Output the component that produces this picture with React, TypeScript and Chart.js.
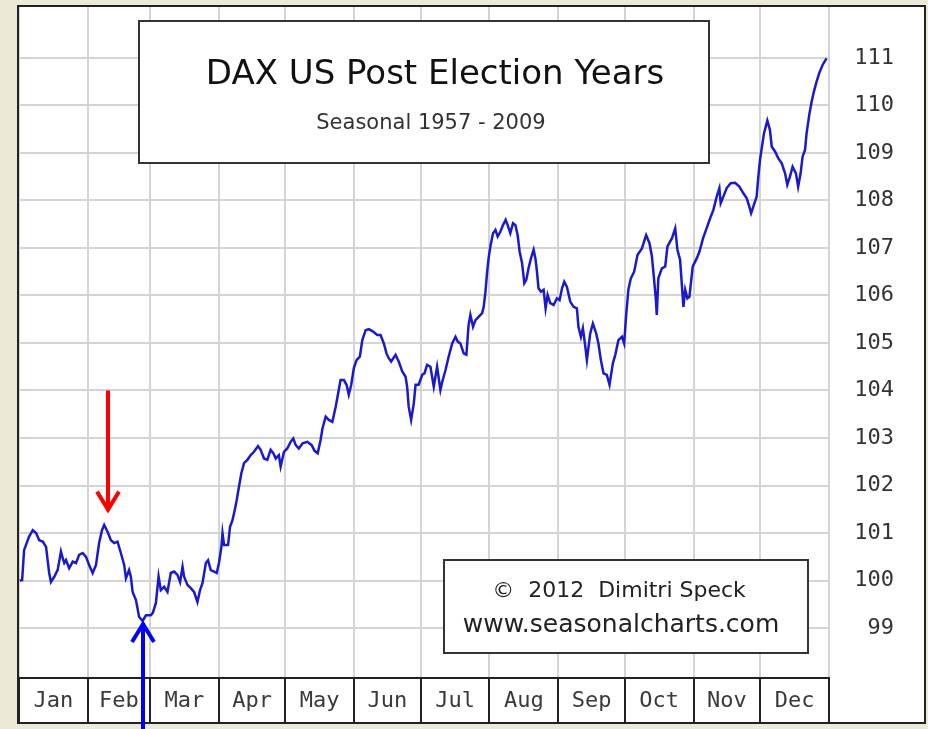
import React, { useEffect, useRef } from 'react';
import { Chart, registerables } from 'chart.js';

Chart.register(...registerables);

// ---- data ----
const monthNames = ['Jan', 'Feb', 'Mar', 'Apr', 'May', 'Jun', 'Jul', 'Aug', 'Sep', 'Oct', 'Nov', 'Dec'];
const monthStarts = [0, 31, 59, 90, 120, 151, 181, 212, 243, 273, 304, 334, 365];
const yTicks = [99, 100, 101, 102, 103, 104, 105, 106, 107, 108, 109, 110, 111];

// day of year for each reading
const days = [
  0.3, 1.4, 2.3, 4.5, 6.2, 7.7, 9.1, 10.7, 12.2, 12.9,
  13.6, 14.4, 15.9, 17.4, 18.9, 19.7, 20.4, 21.2, 22.6, 24.2,
  25.7, 27.1, 28.7, 30.2, 31.6, 33.2, 34.7, 36.1, 37.4, 38.4,
  39.9, 41.4, 42.9, 44.4, 45.9, 47.4, 48.2, 49.6, 50.4, 51.2,
  52.7, 53.4, 54.1, 55.7, 57.2, 59.4, 60.3, 61.7, 62.9, 63.9,
  65.4, 66.9, 68.4, 69.9, 71.4, 72.6, 73.7, 74.4, 75.9, 77.4,
  78.9, 80.4, 81.6, 82.7, 84.2, 85.2, 86.4, 87.9, 89.1, 90.1,
  91.2, 91.7, 92.4, 94.2, 95.1, 96.2, 97.2, 98.1, 99.1, 100.2,
  101.4, 102.9, 104.4, 105.9, 107.7, 108.9, 110.4, 111.9, 113.4, 114.6,
  115.7, 117.1, 117.9, 119.4, 120.9, 122.4, 123.6, 124.7, 126.1, 127.8,
  129.9, 131.9, 133.2, 134.6, 135.9, 136.8, 138.2, 139.6, 141.2, 142.7,
  143.7, 144.9, 146.4, 147.6, 148.6, 149.7, 150.9, 152.1, 153.6, 154.7,
  156.2, 157.6, 159.6, 161.4, 162.9, 164.4, 165.6, 166.6, 167.7, 169.7,
  171.1, 172.7, 174.2, 174.9, 175.6, 176.7, 177.9, 178.7, 180.1, 181.7,
  182.7, 183.9, 185.4, 186.9, 188.4, 189.9, 190.7, 192.2, 193.6, 195.2,
  196.7, 197.7, 198.9, 200.4, 201.6, 202.6, 203.4, 204.6, 205.7, 207.1,
  208.7, 209.4, 210.2, 210.9, 211.6, 212.4, 213.6, 214.7, 215.7, 216.9,
  218.1, 219.3, 220.2, 221.4, 222.6, 223.7, 224.7, 225.6, 226.7, 227.7,
  228.6, 229.6, 230.7, 231.9, 232.7, 233.4, 234.1, 235.2, 236.4, 237.3,
  238.2, 239.4, 240.9, 242.4, 243.6, 244.7, 245.7, 246.9, 248.4, 249.9,
  251.4, 252.1, 253.2, 254.1, 255.2, 255.9, 257.4, 258.6, 260.1, 261.1,
  262.2, 263.4, 264.9, 266.1, 267.6, 268.7, 270.1, 271.7, 272.7, 273.6,
  274.6, 275.7, 277.2, 278.7, 280.7, 282.6, 284.1, 285.2, 286.2, 287.0,
  287.4, 288.1, 289.7, 291.2, 292.2, 294.2, 295.7, 296.7, 297.9, 298.7,
  299.4, 300.2, 301.2, 302.1, 303.6, 305.4, 306.6, 308.3, 309.6, 311.4,
  312.9, 314.4, 315.6, 316.2, 317.4, 318.9, 320.7, 322.7, 324.6, 326.4,
  327.9, 329.1, 329.9, 330.9, 332.4, 333.1, 333.9, 334.7, 335.7, 337.2,
  338.4, 339.2, 340.7, 342.1, 343.7, 345.2, 346.2, 347.4, 348.6, 350.1,
  351.1, 352.2, 353.1, 354.2, 354.9, 356.1, 357.2, 358.2, 359.4, 360.6,
  362.1, 363.9,
];

// seasonal index values
const daxValues = [
  100.0, 100.01, 100.64, 100.92, 101.06, 101.0, 100.85, 100.82, 100.71, 100.43,
  100.16, 99.97, 100.08, 100.22, 100.61, 100.47, 100.37, 100.43, 100.26, 100.4,
  100.37, 100.54, 100.58, 100.5, 100.33, 100.16, 100.33, 100.79, 101.06, 101.17,
  101.03, 100.85, 100.79, 100.82, 100.58, 100.33, 100.05, 100.22, 100.08, 99.76,
  99.59, 99.42, 99.24, 99.15, 99.27, 99.27, 99.32, 99.53, 100.09, 99.8,
  99.87, 99.76, 100.16, 100.19, 100.12, 99.97, 100.29, 100.08, 99.91, 99.84,
  99.76, 99.55, 99.8, 99.95, 100.37, 100.43, 100.22, 100.19, 100.16, 100.37,
  100.71, 101.0, 100.75, 100.75, 101.13, 101.27, 101.48, 101.69, 101.97, 102.26,
  102.47, 102.54, 102.64, 102.71, 102.83, 102.75, 102.57, 102.54, 102.75, 102.68,
  102.57, 102.64, 102.4, 102.71, 102.78, 102.92, 102.99, 102.85, 102.78, 102.89,
  102.92, 102.85, 102.73, 102.68, 102.96, 103.21, 103.45, 103.38, 103.34, 103.66,
  103.91, 104.22, 104.22, 104.12, 103.91, 104.12, 104.47, 104.64, 104.71, 105.06,
  105.27, 105.29, 105.24, 105.17, 105.17, 104.99, 104.78, 104.68, 104.61, 104.75,
  104.61, 104.4, 104.29, 104.08, 103.66, 103.38, 103.73, 104.12, 104.12, 104.33,
  104.36, 104.54, 104.5, 104.08, 104.5, 104.01, 104.18, 104.43, 104.71, 104.99,
  105.13, 105.03, 104.99, 104.78, 104.75, 105.38, 105.59, 105.34, 105.48, 105.55,
  105.63, 105.76, 106.08, 106.47, 106.78, 107.03, 107.31, 107.38, 107.24, 107.34,
  107.48, 107.59, 107.48, 107.31, 107.52, 107.48, 107.27, 106.92, 106.68, 106.26,
  106.33, 106.57, 106.78, 106.96, 106.78, 106.5, 106.15, 106.08, 106.12, 105.73,
  106.01, 105.84, 105.8, 105.94, 105.9, 106.15, 106.29, 106.18, 105.87, 105.76,
  105.73, 105.34, 105.13, 105.31, 104.92, 104.64, 105.2, 105.41, 105.2, 104.99,
  104.64, 104.36, 104.33, 104.12, 104.57, 104.75, 105.06, 105.13, 104.99, 105.59,
  106.12, 106.36, 106.5, 106.85, 106.99, 107.27, 107.1, 106.82, 106.33, 105.9,
  105.59, 106.36, 106.57, 106.61, 107.03, 107.2, 107.41, 106.96, 106.75, 106.22,
  105.76, 106.12, 105.94, 105.97, 106.61, 106.78, 106.92, 107.21, 107.38, 107.62,
  107.8, 108.08, 108.26, 107.94, 108.08, 108.26, 108.36, 108.37, 108.29, 108.15,
  108.05, 107.87, 107.73, 107.87, 108.08, 108.47, 108.85, 109.1, 109.41, 109.68,
  109.48, 109.13, 109.03, 108.89, 108.78, 108.57, 108.33, 108.5, 108.71, 108.57,
  108.29, 108.57, 108.92, 109.06, 109.41, 109.8, 110.08, 110.29, 110.5, 110.68,
  110.85, 110.99,
];

const titleText = 'DAX US Post Election Years';
const subtitleText = 'Seasonal 1957 - 2009';
const creditLines = ['\u00A9  2012  Dimitri Speck', 'www.seasonalcharts.com'];

// arrow annotations: day, tail value, tip value
const arrowDays = [40, 55.7];
const arrowTails = [104.0, 96.8];
const arrowTips = [101.43, 99.15];
const arrowColors = ['#ff0000', '#0000ff'];

const monthMid = monthNames.map((_, i) => (monthStarts[i] + monthStarts[i + 1]) / 2);

const decorPlugin = {
  id: 'decor',
  beforeDraw(chart: any) {
    const ctx = chart.ctx;
    ctx.save();
    ctx.fillStyle = '#ece9d8';
    ctx.fillRect(0, 0, chart.width, chart.height);
    ctx.fillStyle = '#ffffff';
    ctx.fillRect(17, 5, 909, 719);
    ctx.restore();
  },
  afterDraw(chart: any) {
    const ctx = chart.ctx;
    const xs = chart.scales.x;
    const ys = chart.scales.y;
    ctx.save();
    // title box
    ctx.fillStyle = '#ffffff';
    ctx.fillRect(138, 20, 571, 144);
    ctx.strokeStyle = '#333333';
    ctx.lineWidth = 2;
    ctx.strokeRect(139, 21, 570, 142);
    ctx.fillStyle = '#111111';
    ctx.textAlign = 'center';
    ctx.textBaseline = 'alphabetic';
    ctx.font = '34px "DejaVu Sans"';
    ctx.fillText(titleText, 435, 84);
    ctx.fillStyle = '#333333';
    ctx.font = '21px "DejaVu Sans"';
    ctx.fillText(subtitleText, 431, 129);

    // credit box
    ctx.fillStyle = '#ffffff';
    ctx.fillRect(443, 559, 366, 95);
    ctx.strokeRect(444, 560, 364, 93);
    ctx.fillStyle = '#222222';
    ctx.font = '22px "DejaVu Sans"';
    ctx.fillText(creditLines[0], 619, 597);
    ctx.font = '25px "DejaVu Sans"';
    ctx.fillText(creditLines[1], 621, 632);

    // outer frame
    ctx.strokeStyle = '#222222';
    ctx.lineWidth = 2;
    ctx.strokeRect(18, 6, 907, 717);

    // arrows
    arrowDays.forEach((d, i) => {
      const x = Math.round(xs.getPixelForValue(d));
      const yTail = ys.getPixelForValue(arrowTails[i]);
      const yTip = ys.getPixelForValue(arrowTips[i]);
      const dir = yTip > yTail ? 1 : -1;
      ctx.strokeStyle = arrowColors[i];
      ctx.lineWidth = 4;
      ctx.lineCap = 'butt';
      ctx.beginPath();
      ctx.moveTo(x, yTail);
      ctx.lineTo(x, yTip - dir * 2);
      ctx.stroke();
      ctx.lineJoin = 'miter';
      ctx.beginPath();
      ctx.moveTo(x - 11, yTip - dir * 21);
      ctx.lineTo(x, yTip - dir * 3);
      ctx.lineTo(x + 11, yTip - dir * 21);
      ctx.stroke();
    });
    ctx.restore();
  },
};

export default function App() {
  const canvasRef = useRef<HTMLCanvasElement | null>(null);

  useEffect(() => {
    document.body.style.margin = '0';
    const canvas = canvasRef.current;
    if (!canvas) return;
    const boundarySet = new Set(monthStarts);
    const chart = new Chart(canvas, {
      type: 'line',
      data: {
        datasets: [
          {
            data: days.map((d, i) => ({ x: d, y: daxValues[i] })),
            borderColor: '#1a1acc',
            borderWidth: 2.5,
            pointRadius: 0,
            tension: 0,
            fill: false,
          },
        ],
      },
      options: {
        animation: false,
        responsive: true,
        maintainAspectRatio: false,
        devicePixelRatio: 1,
        layout: { padding: { left: 19, top: 7, right: 34, bottom: 7 } },
        plugins: { legend: { display: false }, tooltip: { enabled: false }, title: { display: false } },
        scales: {
          x: {
            type: 'linear',
            position: 'bottom',
            min: 0,
            max: 365,
            afterBuildTicks: (scale: any) => {
              const vals = [...monthStarts, ...monthMid].sort((a, b) => a - b);
              scale.ticks = vals.map((v) => ({ value: v }));
            },
            afterFit: (scale: any) => {
              scale.height = 44;
              scale.paddingLeft = 0;
              scale.paddingRight = 0;
            },
            grid: {
              color: (c: any) => (c.tick && boundarySet.has(c.tick.value) ? '#d4d4d4' : 'rgba(0,0,0,0)'),
              tickColor: (c: any) => (c.tick && boundarySet.has(c.tick.value) ? '#222222' : 'rgba(0,0,0,0)'),
              lineWidth: 2,
              tickWidth: 2,
              tickLength: 44,
              drawTicks: true,
            },
            border: { display: true, color: '#222222', width: 2 },
            ticks: {
              autoSkip: false,
              maxRotation: 0,
              minRotation: 0,
              padding: -34,
              color: '#3a3a3a',
              font: { family: '"DejaVu Sans Mono"', size: 22 },
              callback: (v: any) => {
                const idx = monthMid.indexOf(Number(v));
                return idx >= 0 ? monthNames[idx] : '';
              },
            },
          },
          y: {
            type: 'linear',
            position: 'right',
            min: 97.95,
            max: 112.07,
            afterBuildTicks: (scale: any) => {
              scale.ticks = yTicks.map((v) => ({ value: v }));
            },
            afterFit: (scale: any) => {
              scale.width = 65;
              scale.paddingTop = 0;
              scale.paddingBottom = 0;
            },
            grid: { color: '#d4d4d4', lineWidth: 2, drawTicks: false },
            border: { display: false },
            ticks: {
              crossAlign: 'far',
              padding: 0,
              color: '#333333',
              font: { family: '"DejaVu Sans Mono"', size: 22 },
              callback: (v: any) => String(v),
            },
          },
        },
      },
      plugins: [decorPlugin],
    } as any);
    return () => chart.destroy();
  }, []);

  return (
    <div style={{ position: 'fixed', left: 0, top: 0, width: 928, height: 729 }}>
      <canvas ref={canvasRef} />
    </div>
  );
}
